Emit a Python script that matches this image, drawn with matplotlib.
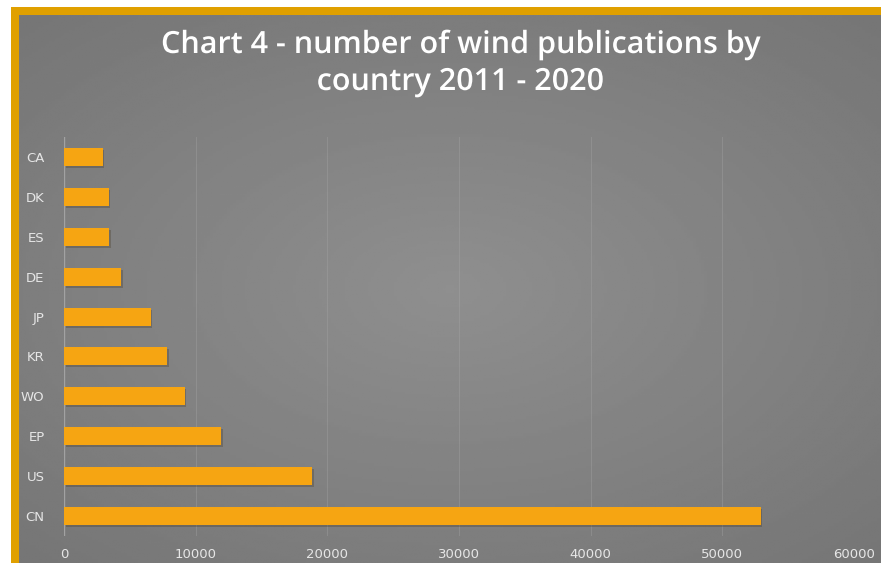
import numpy as np
import matplotlib.pyplot as plt
import matplotlib.patheffects as pe
from matplotlib.patches import Rectangle

countries = ["CA", "DK", "ES", "DE", "JP", "KR", "WO", "EP", "US", "CN"]
publications = [2950, 3380, 3450, 4330, 6600, 7820, 9180, 11950, 18850, 52900]
x_ticks = [0, 10000, 20000, 30000, 40000, 50000, 60000]

W, H = 881, 563
fig = plt.figure(figsize=(W / 100, H / 100), dpi=100, facecolor="white")

# background: orange frame + gray gradient panel, in pixel coords
bg = fig.add_axes([0, 0, 1, 1], zorder=0)
bg.axis("off")
bg.add_patch(Rectangle((11, 7), W, H, facecolor="#E0A000", edgecolor="none", zorder=0))
yy, xx = np.mgrid[-1:1:200j, -1:1:300j]
r = np.sqrt((xx * 0.85) ** 2 + (yy * 0.9) ** 2)
shade = 0.56 - 0.08 * np.clip(r, 0, 1.4)
bg.imshow(shade, cmap="gray", vmin=0, vmax=1, aspect="auto",
          extent=[19, W, H, 15], zorder=1)
bg.set_xlim(0, W)
bg.set_ylim(H, 0)

ax = fig.add_axes([64 / W, 1 - 536 / H, (854 - 64) / W, (536 - 137) / H], zorder=1)
ax.patch.set_alpha(0)

ypos = np.arange(len(countries))[::-1]
# soft shadow under the bars
ax.barh(ypos - 0.05, publications, height=0.45, left=120, color="#3a2a10", alpha=0.25,
        edgecolor="none", zorder=2)
ax.barh(ypos, publications, height=0.45, color="#F6A512", edgecolor="none", zorder=3)

ax.set_xlim(0, 60000)
ax.set_ylim(-0.5, len(countries) - 0.5)
ax.set_yticks(ypos)
ax.set_yticklabels(countries)
ax.set_xticks(x_ticks)
ax.set_xticklabels([str(v) for v in x_ticks])
ax.tick_params(length=0, colors="#e6e6e6", labelsize=9.5)
ax.tick_params(axis="y", pad=14)
ax.tick_params(axis="x", pad=9)
for lab in ax.get_xticklabels() + ax.get_yticklabels():
    lab.set_family(["Liberation Sans Narrow", "DejaVu Sans"])

ax.grid(axis="x", color="#a8a8a8", linewidth=0.8, alpha=0.35, zorder=1)
for s in ax.spines.values():
    s.set_visible(False)
ax.axvline(0, color="#a0a0a0", linewidth=1.0, zorder=1)

title_fx = [pe.SimpleLineShadow(offset=(1.5, -1.5), shadow_color="#333333", alpha=0.6),
            pe.Normal()]
fig.text(0.522, 1 - 45 / H, "Chart 4 - number of wind publications by", ha="center", va="center",
         fontsize=22, color="white", family="Open Sans", fontweight="semibold",
         path_effects=title_fx)
fig.text(0.522, 1 - 82 / H, "country 2011 - 2020", ha="center", va="center",
         fontsize=22, color="white", family="Open Sans", fontweight="semibold",
         path_effects=title_fx)

plt.savefig("out.png", dpi=100)
